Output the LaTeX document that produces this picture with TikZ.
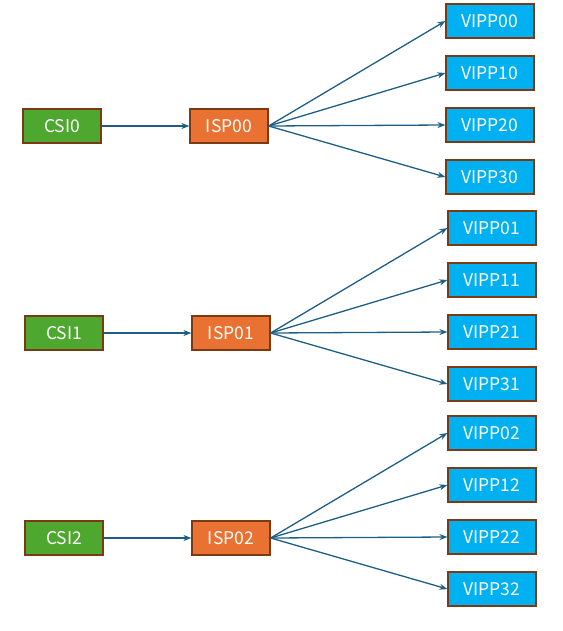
\documentclass[tikz,border=0pt]{standalone}
\usepackage{fontspec}
\newfontfamily\boxfont{Noto Sans CJK SC}
\usepackage{xcolor}
\usetikzlibrary{arrows.meta}

\begin{document}
\begin{tikzpicture}[x=1pt,y=-1pt]
				% Colors
				\definecolor{csicolor}{HTML}{4EA72E}
				\definecolor{ispcolor}{HTML}{E97132}
				\definecolor{vippcolor}{HTML}{00B0F0}
				\definecolor{bordercolor}{HTML}{7A3A14}
				\definecolor{arrowcolor}{HTML}{1D5F84}

				\tikzset{
				  unit/.style={draw=bordercolor, line width=1.2, text=white, font=\boxfont\fontsize{17.5}{19}\selectfont,
				    minimum height=34, inner sep=0pt},
				  csibox/.style={unit, fill=csicolor, minimum width=78},
				  ispbox/.style={unit, fill=ispcolor, minimum width=78},
				  vippbox/.style={unit, fill=vippcolor, minimum width=88},
				  link/.style={draw=arrowcolor, line width=1.3, -{Stealth[length=8,width=6]}}
				}

				\useasboundingbox (0,0) rectangle (562,631);

				\foreach \g/\cx/\ix/\vx/\y in {0/62/229/490/126, 1/64/231/492/333, 2/64/231/492/538}
				{
				  \node[csibox] (csi\g) at (\cx,\y) {CSI\g};
				  \node[ispbox] (isp0\g) at (\ix,\y) {ISP0\g};
				  \draw[link] (csi\g) -- (isp0\g);

				  \foreach \k/\dy in {0/-105, 1/-53, 2/-1, 3/51}
				  {
				    \node[vippbox] (vipp\k\g) at (\vx,\y+\dy) {VIPP\k\g};
				    \draw[link] (isp0\g.east) -- (vipp\k\g.west);
				  }
				}

\end{tikzpicture}
\end{document}
